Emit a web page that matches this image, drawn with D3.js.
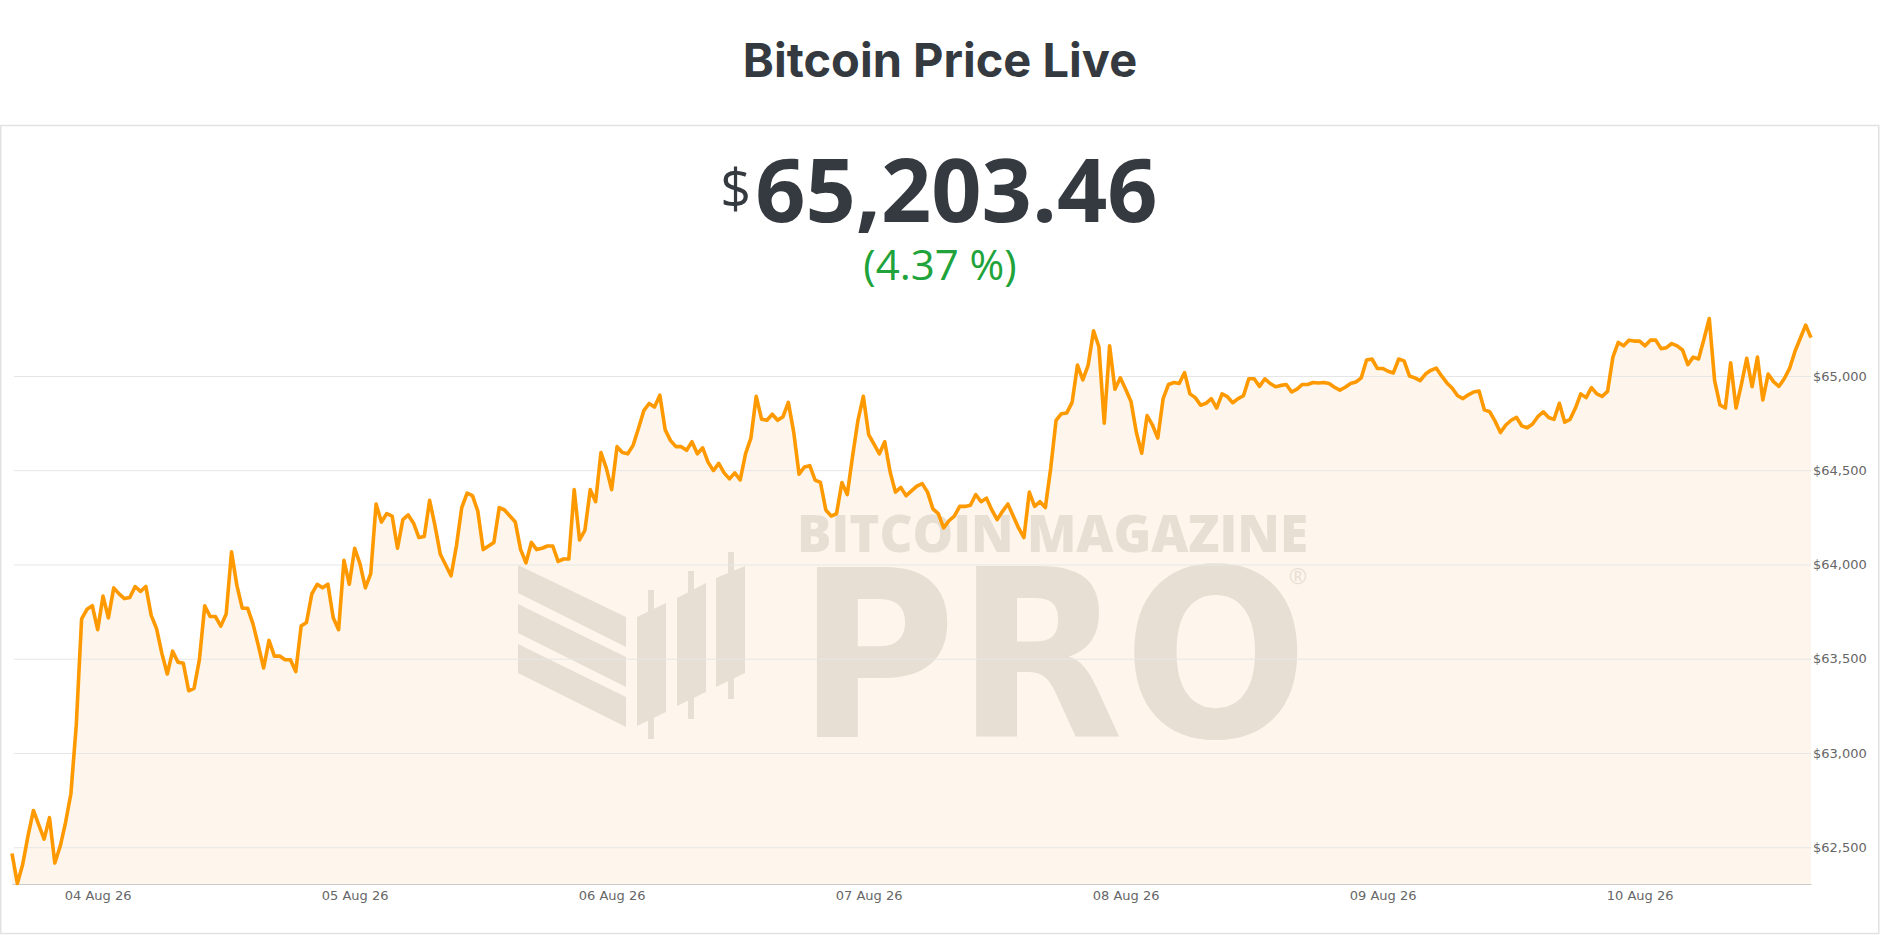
<!DOCTYPE html>
<html>
<head>
<meta charset="utf-8">
<script src="https://cdn.jsdelivr.net/npm/d3@7"></script>
<style>
  body { margin: 0; background: #fff; }
  svg { display: block; }
</style>
</head>
<body>
<script>
// Chart data
const titleText = "Bitcoin Price Live";
const lastPrice = "65,203.46";
const changeLabel = "(4.37 %)";

const startTime = Date.UTC(2026, 7, 3, 16, 0); // 03 Aug 26 16:00
const stepMinutes = 30;

const prices = [
  62467, 62308, 62410, 62562, 62695, 62619, 62543, 62657, 62416, 62505,
  62631, 62784, 63146, 63711, 63762, 63781, 63654, 63832, 63717, 63876,
  63844, 63819, 63825, 63883, 63857, 63883, 63730, 63660, 63527, 63419,
  63540, 63482, 63476, 63330, 63343, 63495, 63781, 63724, 63724, 63673,
  63737, 64067, 63889, 63768, 63768, 63686, 63571, 63451, 63597, 63514,
  63514, 63495, 63495, 63432, 63673, 63692, 63844, 63895, 63876, 63895,
  63717, 63654, 64022, 63895, 64086, 64003, 63876, 63952, 64321, 64225,
  64270, 64257, 64086, 64238, 64263, 64219, 64143, 64149, 64340, 64206,
  64054, 63997, 63940, 64098, 64302, 64378, 64365, 64283, 64079, 64098,
  64117, 64302, 64289, 64257, 64225, 64079, 64009, 64117, 64079, 64086,
  64098, 64098, 64016, 64029, 64029, 64397, 64130, 64181, 64397, 64333,
  64594, 64511, 64397, 64625, 64594, 64587, 64632, 64721, 64816, 64854,
  64835, 64898, 64714, 64657, 64625, 64625, 64606, 64651, 64587, 64619,
  64543, 64498, 64536, 64486, 64454, 64486, 64448, 64587, 64670, 64892,
  64771, 64765, 64797, 64765, 64784, 64860, 64702, 64479, 64517, 64524,
  64448, 64435, 64289, 64257, 64270, 64435, 64371, 64575, 64765, 64892,
  64689, 64638, 64587, 64651, 64492, 64384, 64409, 64365, 64390, 64416,
  64429, 64384, 64295, 64270, 64194, 64232, 64257, 64308, 64308, 64314,
  64371, 64333, 64352, 64289, 64238, 64282, 64321, 64257, 64194, 64143,
  64384, 64308, 64333, 64302, 64511, 64765, 64800, 64804, 64860, 65058,
  64979, 65058, 65240, 65155, 64750, 65160, 64930, 64990, 64930, 64864,
  64700, 64590, 64790, 64740, 64671, 64880, 64955, 64965, 64960, 65018,
  64905, 64885, 64845, 64855, 64880, 64830, 64905, 64890, 64858, 64880,
  64895, 64985, 64985, 64945, 64985, 64960, 64943, 64950, 64955, 64915,
  64930, 64955, 64955, 64965, 64963, 64965, 64960, 64940, 64925, 64940,
  64960, 64968, 64990, 65085, 65090, 65040, 65040, 65025, 65016, 65090,
  65080, 65000, 64990, 64975, 65010, 65030, 65042, 65000, 64963, 64935,
  64895, 64880, 64900, 64915, 64920, 64820, 64810, 64760, 64700, 64740,
  64765, 64780, 64735, 64725, 64745, 64785, 64810, 64780, 64770, 64855,
  64755, 64770, 64830, 64905, 64885, 64938, 64905, 64892, 64918, 65100,
  65178, 65160, 65190, 65185, 65185, 65160, 65190, 65190, 65145, 65150,
  65172, 65160, 65138, 65060, 65100, 65090, 65195, 65305, 64975, 64846,
  64830, 65070, 64830, 64955, 65094, 64943, 65100, 64873, 65010, 64970,
  64945, 64985, 65040, 65130, 65200, 65270, 65203.46
];

const yTicks = [62500, 63000, 63500, 64000, 64500, 65000];
const yMin = 62305;
const yMax = 65403;

const data = prices.map((p, i) => ({
  t: new Date(startTime + i * stepMinutes * 60000),
  p: p
}));

const W = 1880;
const H = 935;
const plot = { left: 12, right: 1811, top: 300, bottom: 884 };

const svg = d3.select("body")
  .append("svg")
  .attr("width", W)
  .attr("height", H);

// page title
svg.append("text")
  .attr("x", W / 2)
  .attr("y", 77)
  .attr("text-anchor", "middle")
  .style("font-family", "Inter, 'Noto Sans', sans-serif")
  .style("font-weight", 700)
  .style("font-size", "47px")
  .style("fill", "#343a40")
  .text(titleText);

// card
svg.append("rect")
  .attr("x", 0.75)
  .attr("y", 125.5)
  .attr("width", W - 2)
  .attr("height", 808)
  .style("fill", "#fff")
  .style("stroke", "#e2e2e2")
  .style("stroke-width", 1.5);

// big price, "$" set smaller and raised
const priceG = svg.append("g");
const dollar = priceG.append("text")
  .attr("y", 208)
  .style("font-family", "'Open Sans', sans-serif")
  .style("font-weight", 400)
  .style("font-size", "54px")
  .style("fill", "#343a40")
  .text("$");
const digits = priceG.append("text")
  .attr("y", 222)
  .style("font-family", "'Open Sans', sans-serif")
  .style("font-weight", 700)
  .style("font-size", "88px")
  .style("fill", "#343a40")
  .text(lastPrice);
const dw = dollar.node().getComputedTextLength();
const nw = digits.node().getComputedTextLength();
const x0 = 939 - (dw + 4 + nw) / 2;
dollar.attr("x", x0);
digits.attr("x", x0 + dw + 4);

svg.append("text")
  .attr("x", 940)
  .attr("y", 280)
  .attr("text-anchor", "middle")
  .style("font-family", "'Open Sans', sans-serif")
  .style("font-size", "42px")
  .style("fill", "#20a33a")
  .text(changeLabel);

// scales
const x = d3.scaleUtc()
  .domain([data[0].t, data[data.length - 1].t])
  .range([plot.left, plot.right]);

const y = d3.scaleLinear()
  .domain([yMin, yMax])
  .range([plot.bottom, plot.top]);

// area under the line
const area = d3.area()
  .x((d) => x(d.t))
  .y0(plot.bottom)
  .y1((d) => y(d.p));

svg.append("path")
  .datum(data)
  .attr("d", area)
  .style("fill", "#fef6ec");

// watermark (behind grid and line)
const wm = svg.append("g").style("fill", "#e7dfd4");
const stripes = [
  [[518, 565], [626, 617], [626, 647], [518, 593]],
  [[518, 604], [626, 657], [626, 687], [518, 633]],
  [[518, 644], [626, 697], [626, 727], [518, 673]]
];
stripes.forEach((pts) => {
  wm.append("polygon").attr("points", pts.map((p) => p.join(",")).join(" "));
});
const bars = [
  { x: 637, w: 29, tl: 617, tr: 603, bl: 726, br: 712, wx: 648, wt: 590, wb: 739 },
  { x: 677, w: 29, tl: 598, tr: 583, bl: 706, br: 692, wx: 688, wt: 571, wb: 719 },
  { x: 716, w: 29, tl: 578, tr: 566, bl: 687, br: 673, wx: 728, wt: 552, wb: 699 }
];
bars.forEach((b) => {
  wm.append("rect")
    .attr("x", b.wx).attr("y", b.wt)
    .attr("width", 6).attr("height", b.wb - b.wt);
  wm.append("polygon")
    .attr("points", [[b.x, b.tl], [b.x + b.w, b.tr], [b.x + b.w, b.br], [b.x, b.bl]]
      .map((p) => p.join(",")).join(" "));
});
wm.append("text")
  .attr("x", 797)
  .attr("y", 552)
  .attr("textLength", 511)
  .attr("lengthAdjust", "spacingAndGlyphs")
  .style("font-family", "'Open Sans', sans-serif")
  .style("font-weight", 800)
  .style("font-size", "52px")
  .text("BITCOIN MAGAZINE");
wm.append("text")
  .attr("x", 797)
  .attr("y", 737)
  .attr("textLength", 511)
  .attr("lengthAdjust", "spacingAndGlyphs")
  .style("font-family", "'DejaVu Sans', sans-serif")
  .style("font-weight", 700)
  .style("font-size", "234px")
  .text("PRO");
wm.append("text")
  .attr("x", 1298)
  .attr("y", 584)
  .attr("text-anchor", "middle")
  .style("font-family", "'Open Sans', sans-serif")
  .style("font-size", "22px")
  .text("®");

// y axis with grid lines, labels on the right
const yAxis = svg.append("g")
  .attr("transform", `translate(${plot.right},0)`)
  .call(d3.axisRight(y)
    .tickValues(yTicks)
    .tickSize(-(plot.right - plot.left - 2))
    .tickPadding(2)
    .tickFormat(d3.format("$,")));
yAxis.select(".domain").remove();
yAxis.selectAll(".tick line").style("stroke", "#e6e6e6");
yAxis.selectAll(".tick text")
  .style("font-family", "'DejaVu Sans', Verdana, sans-serif")
  .style("font-size", "13px")
  .style("fill", "#666");

// x axis
const xAxis = svg.append("g")
  .attr("transform", `translate(0,${plot.bottom})`)
  .call(d3.axisBottom(x)
    .ticks(d3.utcDay.every(1))
    .tickFormat(d3.utcFormat("%d %b %y"))
    .tickSize(0)
    .tickSizeOuter(0)
    .tickPadding(7));
xAxis.select(".domain").style("stroke", "#ccc");
xAxis.selectAll(".tick text")
  .style("font-family", "'DejaVu Sans', Verdana, sans-serif")
  .style("font-size", "13px")
  .style("fill", "#666");

// price line
const line = d3.line()
  .x((d) => x(d.t))
  .y((d) => y(d.p));

svg.append("path")
  .datum(data)
  .attr("d", line)
  .style("fill", "none")
  .style("stroke", "#ff9900")
  .style("stroke-width", 3.6)
  .style("stroke-linejoin", "round");
</script>
</body>
</html>
